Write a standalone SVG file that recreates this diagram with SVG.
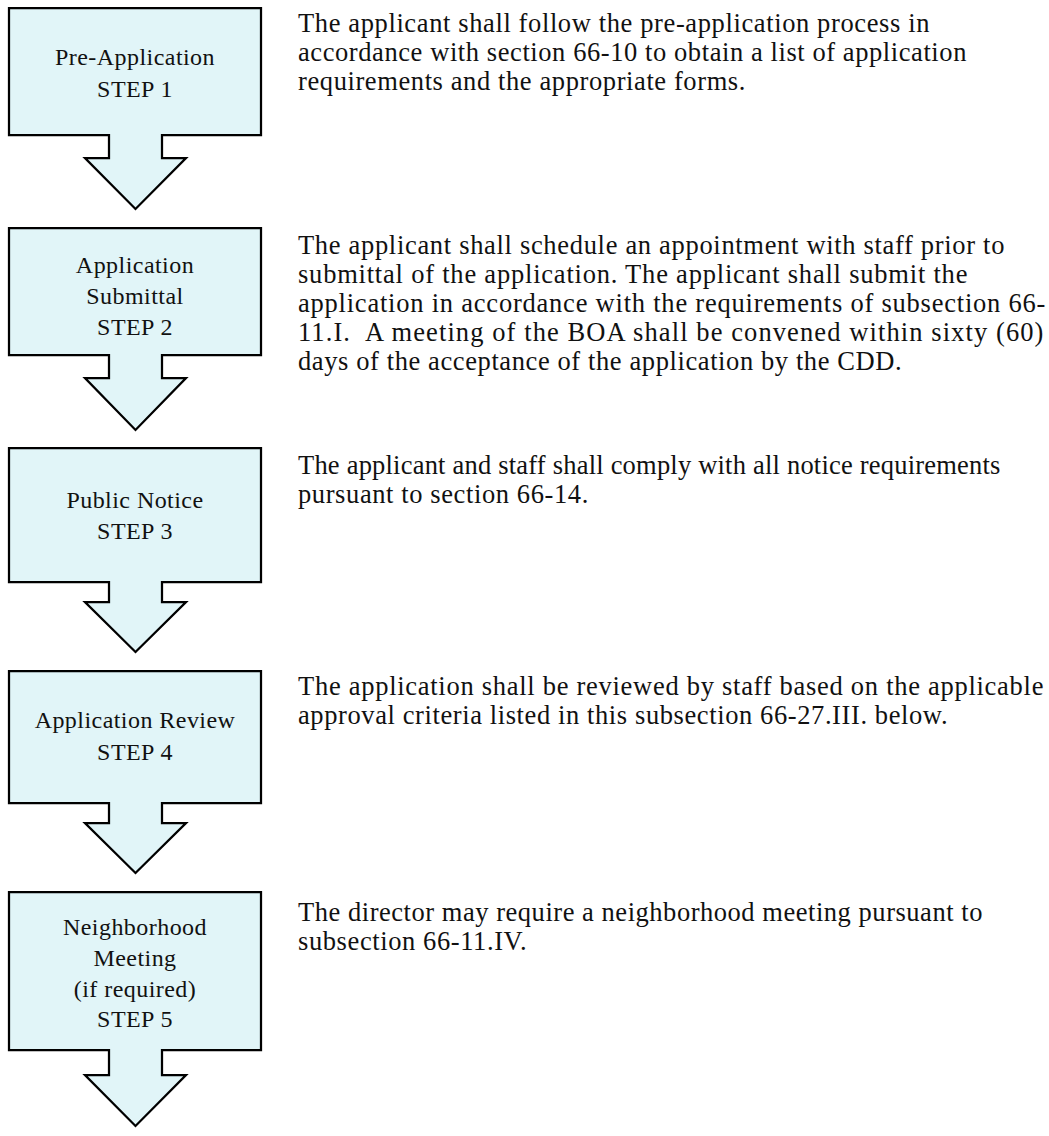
<svg xmlns="http://www.w3.org/2000/svg" width="1049" height="1136" viewBox="0 0 1049 1136">
  <style>
    .step { fill: #E1F5F8; stroke: #000; stroke-width: 2.25; stroke-linejoin: miter; }
    .lbl { font-family: "Liberation Serif", "Times New Roman", serif; font-size: 24px; letter-spacing: 0.45px; fill: #111; text-anchor: middle; }
    .txt { font-family: "Liberation Serif", "Times New Roman", serif; font-size: 26.5px; letter-spacing: 0.6px; fill: #111; }
  </style>
  <rect width="1049" height="1136" fill="#fff"/>

  <!-- Step nodes: box with a down-pointing arrow beneath -->
  <g id="step1">
    <path class="step" d="M9,8 H261 V135 H162 V158 H186 L135.5,209 L85,158 H109 V135 H9 Z"/>
    <text class="lbl" x="135" y="65">Pre-Application</text>
    <text class="lbl" x="135" y="97">STEP 1</text>
  </g>
  <g id="step2">
    <path class="step" d="M9,228 H261 V355 H162 V378 H186 L135.5,430 L85,378 H109 V355 H9 Z"/>
    <text class="lbl" x="135" y="273">Application</text>
    <text class="lbl" x="135" y="304">Submittal</text>
    <text class="lbl" x="135" y="335">STEP 2</text>
  </g>
  <g id="step3">
    <path class="step" d="M9,448 H261 V582 H162 V602 H186 L135.5,652 L85,602 H109 V582 H9 Z"/>
    <text class="lbl" x="135" y="508">Public Notice</text>
    <text class="lbl" x="135" y="539">STEP 3</text>
  </g>
  <g id="step4">
    <path class="step" d="M9,671 H261 V803 H162 V823 H186 L135.5,873 L85,823 H109 V803 H9 Z"/>
    <text class="lbl" x="135" y="728">Application Review</text>
    <text class="lbl" x="135" y="760">STEP 4</text>
  </g>
  <g id="step5">
    <path class="step" d="M9,892 H261 V1050 H162 V1075 H186 L135.5,1126 L85,1075 H109 V1050 H9 Z"/>
    <text class="lbl" x="135" y="935">Neighborhood</text>
    <text class="lbl" x="135" y="966">Meeting</text>
    <text class="lbl" x="135" y="997">(if required)</text>
    <text class="lbl" x="135" y="1027">STEP 5</text>
  </g>

  <!-- The steps are joined by their own arrow shapes; no separate connector lines -->
  <g id="connectors"/>

  <!-- Descriptions of each step -->
  <g id="desc1">
    <text class="txt" x="298" y="32" textLength="632" lengthAdjust="spacing">The applicant shall follow the pre-application process in</text>
    <text class="txt" x="298" y="61" textLength="669" lengthAdjust="spacing">accordance with section 66-10 to obtain a list of application</text>
    <text class="txt" x="298" y="90">requirements and the appropriate forms.</text>
  </g>
  <g id="desc2">
    <text class="txt" x="298" y="254" textLength="707" lengthAdjust="spacing">The applicant shall schedule an appointment with staff prior to</text>
    <text class="txt" x="298" y="283" textLength="670" lengthAdjust="spacing">submittal of the application. The applicant shall submit the</text>
    <text class="txt" x="298" y="312" textLength="748" lengthAdjust="spacing">application in accordance with the requirements of subsection 66-</text>
    <text class="txt" x="298" y="341" textLength="746" lengthAdjust="spacing">11.I.&#160; A meeting of the BOA shall be convened within sixty (60)</text>
    <text class="txt" x="298" y="370">days of the acceptance of the application by the CDD.</text>
  </g>
  <g id="desc3">
    <text class="txt" x="298" y="474" textLength="703" lengthAdjust="spacing">The applicant and staff shall comply with all notice requirements</text>
    <text class="txt" x="298" y="503">pursuant to section 66-14.</text>
  </g>
  <g id="desc4">
    <text class="txt" x="298" y="695" textLength="746" lengthAdjust="spacing">The application shall be reviewed by staff based on the applicable</text>
    <text class="txt" x="298" y="724">approval criteria listed in this subsection 66-27.III. below.</text>
  </g>
  <g id="desc5">
    <text class="txt" x="298" y="921" textLength="685" lengthAdjust="spacing">The director may require a neighborhood meeting pursuant to</text>
    <text class="txt" x="298" y="950">subsection 66-11.IV.</text>
  </g>
</svg>
